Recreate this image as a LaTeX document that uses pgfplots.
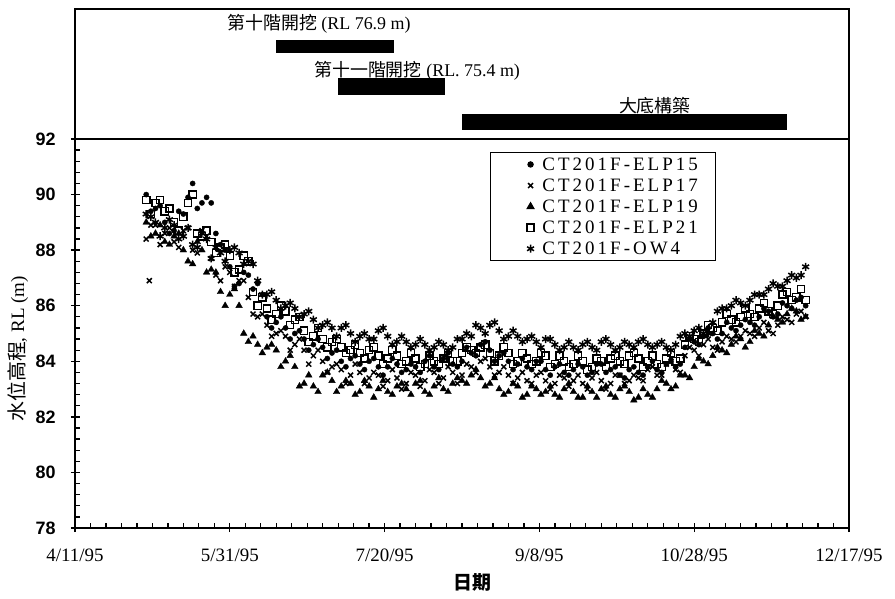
\documentclass[border=0pt]{standalone}
\usepackage{pgfplots}
\pgfplotsset{compat=1.18}
\usepackage{pgfplotstable}
\usepackage{fontspec}
\setmainfont{Liberation Serif}
\newfontfamily\cjk{Noto Sans CJK TC}
\newfontfamily\legfont[LetterSpace=16]{Liberation Serif}
\newfontfamily\numfont{Liberation Sans}

% water level readings (day counted from 4/11/95)
\pgfplotstableread{
d   e15  e17  e19  e21  ow4
23  90.0 88.4 89.0 89.8 89.3
26  89.5 88.9 88.6 89.7 89.0
29  89.0 88.6 88.3 89.4 88.8
32  88.7 88.3 88.5 89.0 88.9
35  89.3 88.7 88.0 89.2 88.5
38  90.4 88.0 87.5 90.0 88.2
41  89.7 88.7 88.0 88.5 88.6
44  89.7 87.7 87.3 88.3 87.7
47  88.2 86.9 86.5 88.1 87.9
50  87.4 87.2 86.4 87.8 88.0
53  86.8 86.9 86.0 87.3 87.9
56  87.1 86.3 84.7 87.6 87.6
59  86.8 85.6 84.6 86.0 86.9
62  85.6 85.3 84.5 85.9 86.4
65  85.4 85.0 84.4 85.7 86.2
68  85.2 84.9 84.0 85.8 86.0
71  85.0 84.6 83.8 85.5 85.9
74  84.8 84.4 83.2 85.1 85.7
77  84.6 84.2 83.1 84.9 85.5
80  84.5 84.0 83.5 84.8 85.3
83  84.3 83.8 83.3 84.7 85.2
86  84.0 83.7 83.1 84.5 85.2
89  84.1 83.5 83.2 84.4 85.0
92  83.9 83.6 82.9 84.3 84.9
95  84.0 83.4 83.1 84.4 84.8
98  83.8 83.5 83.0 84.2 85.1
101 83.8 83.3 82.9 84.1 84.9
104 83.9 83.4 83.1 84.2 84.7
107 83.7 83.2 83.0 84.0 84.7
110 83.8 83.5 83.2 84.1 84.6
113 84.0 83.3 82.9 83.9 84.6
116 83.8 83.6 83.1 84.0 84.5
119 84.1 83.4 83.0 84.1 84.6
122 83.9 83.6 83.2 84.0 84.5
125 84.0 83.5 83.3 84.3 84.8
128 84.3 83.8 83.5 84.4 84.9
131 84.6 84.0 83.4 84.5 85.2
134 84.4 83.8 83.2 84.3 85.3
137 84.2 83.6 83.0 84.2 85.1
140 84.0 83.5 82.9 84.3 84.9
143 83.9 83.4 83.1 84.0 84.9
146 83.8 83.3 82.8 84.1 84.8
149 84.0 83.5 83.0 84.0 84.7
152 83.7 83.3 82.9 84.2 84.8
155 83.8 83.2 82.8 83.9 84.6
158 83.6 83.4 83.0 84.0 84.5
161 83.7 83.3 82.9 83.9 84.5
164 83.8 83.2 82.7 84.0 84.6
167 83.6 83.4 82.9 83.8 84.5
170 83.9 83.3 83.0 84.0 84.7
173 83.7 83.2 82.8 84.1 84.6
176 83.5 83.5 83.0 84.0 84.5
179 83.7 83.3 82.9 84.2 84.6
182 83.6 83.4 82.7 84.1 84.7
185 83.8 83.7 82.8 84.0 84.6
188 83.7 83.5 83.0 83.9 84.6
191 83.9 83.9 83.2 84.1 84.5
194 83.8 83.7 83.1 84.0 84.6
197 84.5 84.2 83.5 84.6 85.0
200 84.7 84.4 83.8 84.8 85.1
203 84.9 84.6 84.0 85.0 85.0
206 85.0 84.5 84.2 85.2 85.4
209 85.0 84.7 84.4 85.4 85.9
212 85.2 84.8 84.6 85.5 86.0
215 85.3 84.9 84.8 85.6 86.1
218 85.4 85.0 84.7 85.7 86.2
221 85.6 85.2 85.0 85.9 86.4
224 85.8 85.1 85.3 85.8 86.6
227 85.7 85.3 85.5 86.0 86.7
230 86.0 85.5 85.7 86.5 86.9
233 86.2 85.7 85.8 86.3 87.0
236 86.0 85.6 85.6 86.2 87.4
24.5  89.4 88.9 88.5 89.3 89.2
27.5  89.6 88.2 88.9 89.8 88.5
30.5  88.6 88.8 88.2 89.5 89.1
33.5  89.4 88.1 88.6 88.7 88.4
36.5  89.9 88.8 87.6 89.7 88.8
39.5  89.5 87.9 88.3 88.6 88.1
42.5  89.9 88.5 87.2 88.7 88.4
45.5  88.6 87.1 87.2 87.9 88.1
48.5  88.0 87.4 86.0 88.2 87.6
51.5  86.7 86.7 86.6 87.2 88.1
54.5  87.2 86.9 85.0 87.8 87.5
57.5  86.6 85.7 84.9 86.5 87.5
60.5  86.4 85.7 84.3 86.3 86.4
63.5  85.2 84.9 84.6 85.5 86.5
66.5  85.6 85.1 83.8 86.0 85.9
69.5  84.8 84.4 84.2 85.3 86.1
72.5  85.1 84.8 83.1 85.6 85.6
75.5  84.4 83.9 83.5 84.7 85.8
78.5  84.8 84.4 82.9 85.2 85.2
81.5  84.1 83.6 83.6 84.5 85.4
84.5  84.4 83.9 82.9 84.8 84.9
87.5  83.8 83.2 83.3 84.3 85.3
90.5  84.2 83.9 82.8 84.6 84.7
93.5  83.7 83.2 83.3 84.1 85.0
96.5  84.1 83.6 82.7 84.5 84.8
99.5  83.5 83.1 83.3 83.9 85.2
102.5 84.1 83.7 82.8 84.4 84.6
105.5 83.6 83.0 83.2 83.9 84.9
108.5 83.9 83.6 82.8 84.3 84.5
111.5 83.6 83.1 83.3 83.8 84.8
114.5 84.2 83.7 82.8 84.2 84.4
117.5 83.7 83.2 83.4 83.9 84.7
120.5 84.3 83.8 82.9 84.3 84.4
123.5 83.8 83.2 83.4 84.0 84.8
126.5 84.5 83.9 83.2 84.5 85.0
129.5 84.2 83.6 83.7 84.3 85.3
132.5 84.7 84.1 83.1 84.6 85.0
135.5 84.0 83.5 83.4 84.0 85.4
138.5 84.3 83.8 82.8 84.5 84.8
141.5 83.7 83.2 83.2 83.9 85.1
144.5 84.1 83.6 82.7 84.3 84.7
147.5 83.7 83.2 83.1 83.9 84.9
150.5 84.0 83.6 82.8 84.3 84.5
153.5 83.5 83.0 83.1 83.8 84.8
156.5 83.9 83.5 82.7 84.2 84.4
159.5 83.5 83.1 83.2 83.8 84.7
162.5 83.9 83.5 82.7 84.2 84.4
165.5 83.5 83.0 83.1 83.7 84.7
168.5 83.9 83.6 82.7 84.1 84.4
171.5 83.6 83.0 83.1 83.8 84.8
174.5 83.8 83.5 82.7 84.2 84.4
177.5 83.4 83.2 83.1 83.9 84.7
180.5 83.8 83.5 82.6 84.3 84.5
183.5 83.5 83.3 83.0 83.8 84.8
186.5 84.0 83.8 82.7 84.2 84.5
189.5 83.6 83.5 83.3 83.8 84.7
192.5 84.0 84.0 83.0 84.3 84.4
195.5 83.9 83.6 83.5 84.1 84.9
198.5 84.8 84.5 83.4 84.9 84.9
201.5 84.6 84.2 84.1 84.7 85.2
204.5 85.2 84.8 83.9 85.3 85.0
207.5 84.8 84.4 84.5 85.1 85.8
210.5 85.4 84.9 84.3 85.7 85.9
213.5 85.1 84.7 84.9 85.4 86.2
216.5 85.5 85.1 84.5 85.9 86.0
219.5 85.3 84.9 85.1 85.6 86.4
222.5 85.9 85.4 84.9 86.1 86.4
225.5 85.6 85.0 85.6 85.7 86.8
228.5 86.1 85.6 85.4 86.4 86.7
231.5 85.9 85.4 85.9 86.2 87.1
234.5 86.3 85.8 85.5 86.6 87.1
}\levels

\begin{document}
\begin{tikzpicture}
\path[use as bounding box] (-75bp,-71bp) rectangle (820bp,528bp);

% construction stages
\begin{axis}[
  at={(0,389bp)}, anchor=south west,
  scale only axis, width=774bp, height=130bp,
  xmin=0, xmax=250, ymin=0, ymax=130,
  axis line style={line width=2.4bp},
  xtick=\empty, ytick=\empty,
  clip=false,
]
\addplot[fill=black, draw=none] coordinates {(64.9,86) (103.0,86) (103.0,99) (64.9,99)} -- cycle;
\addplot[fill=black, draw=none] coordinates {(85.0,44) (119.5,44) (119.5,61) (85.0,61)} -- cycle;
\addplot[fill=black, draw=none] coordinates {(125.0,9) (230.0,9) (230.0,25) (125.0,25)} -- cycle;
\node[font=\fontsize{18}{18}\selectfont] at (axis cs:78.8,115) {{\cjk 第十階開挖} (RL 76.9 m)};
\node[font=\fontsize{18}{18}\selectfont] at (axis cs:110.5,68) {{\cjk 第十一階開挖} (RL. 75.4 m)};
\node[font=\fontsize{18}{18}\selectfont] at (axis cs:187.3,33) {{\cjk 大底構築}};
\end{axis}

% water levels
\begin{axis}[
  at={(0,0)}, anchor=south west,
  scale only axis, width=774bp, height=389bp,
  xmin=0, xmax=250, ymin=78, ymax=92,
  axis line style={line width=2.4bp},
  xtick={0,50,100,150,200,250},
  xticklabels={4/11/95,5/31/95,7/20/95,9/8/95,10/28/95,12/17/95},
  ytick={78,80,...,92},
  minor x tick num=9, minor y tick num=4,
  xtick pos=bottom, ytick pos=left,
  tick align=inside,
  major tick length=9bp, minor tick length=5bp,
  every tick/.style={black, line width=1.3bp},
  every major x tick/.append style={yshift=-4bp},
  every major y tick/.append style={xshift=-4bp},
  /pgf/number format/assume math mode=true,
  x tick label style={font=\fontsize{19}{19}\selectfont, yshift=-17bp},
  y tick label style={font=\numfont\bfseries\fontsize{18}{18}\selectfont, xshift=-16bp},
  xlabel={\cjk\bfseries 日期},
  xlabel style={font=\fontsize{19}{19}\selectfont, at={(axis description cs:0.514,-0.139)}, anchor=center},
  ylabel={{\cjk\fontsize{20}{20}\selectfont 水位高程}, RL (m)},
  ylabel style={font=\fontsize{19}{19}\selectfont, at={(axis description cs:-0.074,0.46)}, anchor=center},
  legend style={at={(0.536,0.967)}, anchor=north west, draw=black, line width=1.2bp,
    font=\legfont\fontsize{19}{22}\selectfont, inner xsep=16bp, inner ysep=3bp, row sep=3bp},
  legend cell align=left,
  legend image code/.code={%
    \path[draw=none] (0,0) -- (1.2cm,0);
    \draw[#1] plot coordinates {(0.85cm,0cm)};},
]
\addplot[only marks, mark=*, mark size=2.6bp, black] table[x=d, y=e15] {\levels};
\addlegendentry{CT201F-ELP15}
\addplot[only marks, mark=x, mark size=3.5bp, black, line width=1.5bp] table[x=d, y=e17] {\levels};
\addlegendentry{CT201F-ELP17}
\addplot[only marks, mark=triangle*, mark size=3.8bp, black] table[x=d, y=e19] {\levels};
\addlegendentry{CT201F-ELP19}
\addplot[only marks, mark=square, mark size=3.6bp, black, line width=1.4bp] table[x=d, y=e21] {\levels};
\addlegendentry{CT201F-ELP21}
\addplot[only marks, mark=asterisk, mark size=4bp, black, line width=1.5bp] table[x=d, y=ow4] {\levels};
\addlegendentry{CT201F-OW4}
\addplot[only marks, mark=x, mark size=3.5bp, black, line width=1.5bp, forget plot] coordinates {(24,86.9)};
\end{axis}
\end{tikzpicture}
\end{document}
